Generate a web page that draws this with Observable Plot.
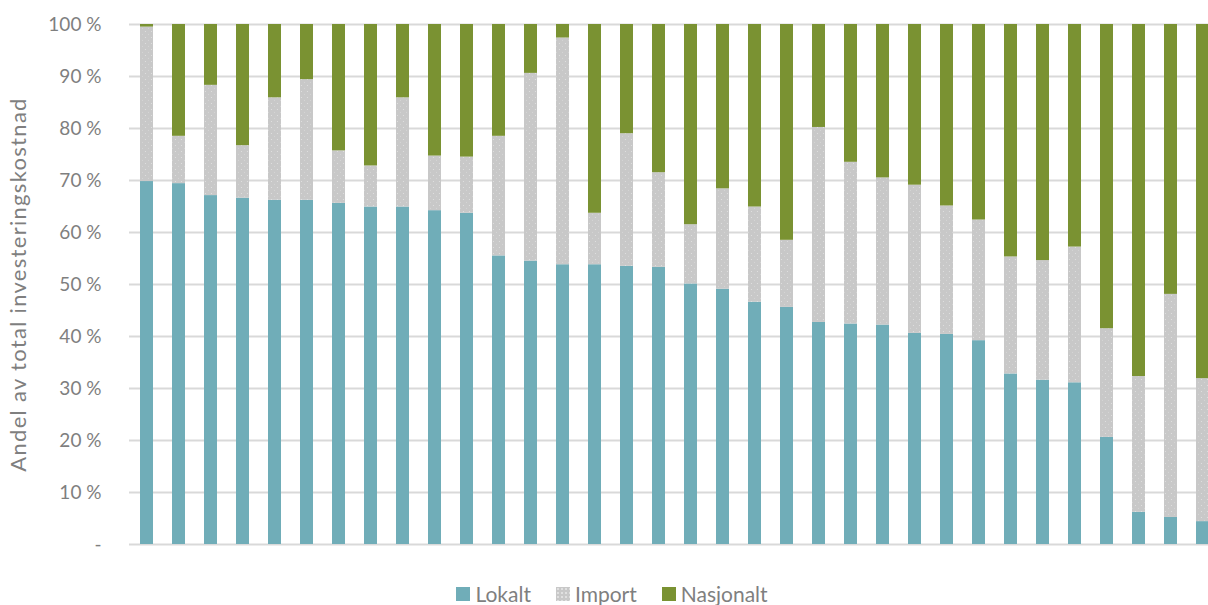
<!DOCTYPE html>
<html><head><meta charset="utf-8">
<script src="https://cdn.jsdelivr.net/npm/d3@7"></script>
<script src="https://cdn.jsdelivr.net/npm/@observablehq/plot@0.6"></script>
<style>
html,body{margin:0;padding:0;background:#fff;overflow:hidden;}
#chart{width:1208px;}
#chart svg{display:block;overflow:hidden;}
.legend{display:flex;justify-content:center;gap:25px;font-family:Lato,sans-serif;font-size:21px;line-height:24px;color:#7f7f7f;margin-top:22px;padding-left:16px;}
.legend .item{display:flex;align-items:center;gap:5px;}
.legend .sw{width:14px;height:14px;display:inline-block;}
</style></head><body><div id="chart"></div>
<script>
const categories = ["1","2","3","4","5","6","7","8","9","10","11","12","13","14","15","16","17","18","19","20","21","22","23","24","25","26","27","28","29","30","31","32","33","34"];
const seriesNames = ["Lokalt","Import","Nasjonalt"];
const lokalt    = [69.8,69.4,67.1,66.6,66.2,66.2,65.6,64.9,64.9,64.2,63.7,55.5,54.5,53.8,53.8,53.5,53.3,50.1,49.1,46.6,45.6,42.7,42.4,42.2,40.6,40.4,39.2,32.8,31.6,31.1,20.6,6.2,5.2,4.4];
const importAndel = [29.7,9.1,21.2,10.1,19.7,23.2,10.1,7.9,21.0,10.5,10.8,23.0,36.1,43.6,9.9,25.5,18.2,11.4,19.3,18.3,12.9,37.5,31.1,28.3,28.5,24.7,23.2,22.5,23.0,26.1,20.9,26.1,42.9,27.5];
const nasjonalt = [0.5,21.5,11.7,23.3,14.1,10.6,24.3,27.2,14.1,25.3,25.5,21.5,9.4,2.6,36.3,21.0,28.5,38.5,31.6,35.1,41.5,19.8,26.5,29.5,30.9,34.9,37.6,44.7,45.4,42.8,58.5,67.7,51.9,68.1];
const yTicks = [0,10,20,30,40,50,60,70,80,90,100];
const yLabel = "Andel av total investeringskostnad";
const seriesColors = ["#70ADB8","#C8C8C8","#7A9232"];

const seriesValues = [lokalt, importAndel, nasjonalt];
const data = categories.flatMap((c, i) => seriesNames.map((s, j) => ({cat: c, serie: s, value: seriesValues[j][i]})));

const svg = Plot.plot({
  width: 1208, height: 560,
  marginTop: 24, marginBottom: 16, marginLeft: 129, marginRight: 0,
  style: {fontFamily: "Lato, sans-serif", background: "white"},
  x: {domain: categories, range: [129, 1220], paddingInner: 0.594, paddingOuter: 0.32, axis: null},
  y: {domain: [0, 100]},
  color: {domain: seriesNames, range: [seriesColors[0], "url(#importDots)", seriesColors[2]]},
  marks: [
    Plot.gridY(yTicks, {stroke: "#D9D9D9", strokeOpacity: 1, strokeWidth: 2}),
    Plot.barY(data, {x: "cat", y: "value", fill: "serie"}),
    Plot.axisY(yTicks, {
      tickSize: 0, tickPadding: 28, fontSize: 19, color: "#7f7f7f", fill: "#7f7f7f",
      tickFormat: d => d === 0 ? "-" : d + " %", label: null
    }),
    Plot.axisY([], {
      fontSize: 22, color: "#7f7f7f", fill: "#7f7f7f", tickSize: 0,
      label: yLabel, labelAnchor: "center", labelArrow: "none", labelOffset: 119
    })
  ]
});

d3.select(svg).selectAll("text").filter(function() { return this.textContent === yLabel; }).style("letter-spacing", "1.3px");

const defs = d3.select(svg).insert("defs", ":first-child");
const pat = defs.append("pattern").attr("id", "importDots").attr("patternUnits", "userSpaceOnUse").attr("width", 6).attr("height", 6);
pat.append("rect").attr("width", 6).attr("height", 6).attr("fill", seriesColors[1]);
pat.append("circle").attr("cx", 1.5).attr("cy", 1.5).attr("r", 0.6).attr("fill", "#E2E2E2");
pat.append("circle").attr("cx", 4.5).attr("cy", 4.2).attr("r", 0.5).attr("fill", "#DADADA");

const chart = document.getElementById("chart");
chart.appendChild(svg);

const legend = document.createElement("div");
legend.className = "legend";
seriesNames.forEach((s, j) => {
  const item = document.createElement("span");
  item.className = "item";
  const sw = document.createElement("span");
  sw.className = "sw";
  sw.style.background = seriesColors[j];
  if (j === 1) sw.style.backgroundImage = "radial-gradient(#E2E2E2 0.7px, transparent 0.8px)", sw.style.backgroundSize = "4px 4px";
  const t = document.createElement("span");
  t.textContent = s;
  item.appendChild(sw); item.appendChild(t);
  legend.appendChild(item);
});
chart.appendChild(legend);
</script>
</body></html>
